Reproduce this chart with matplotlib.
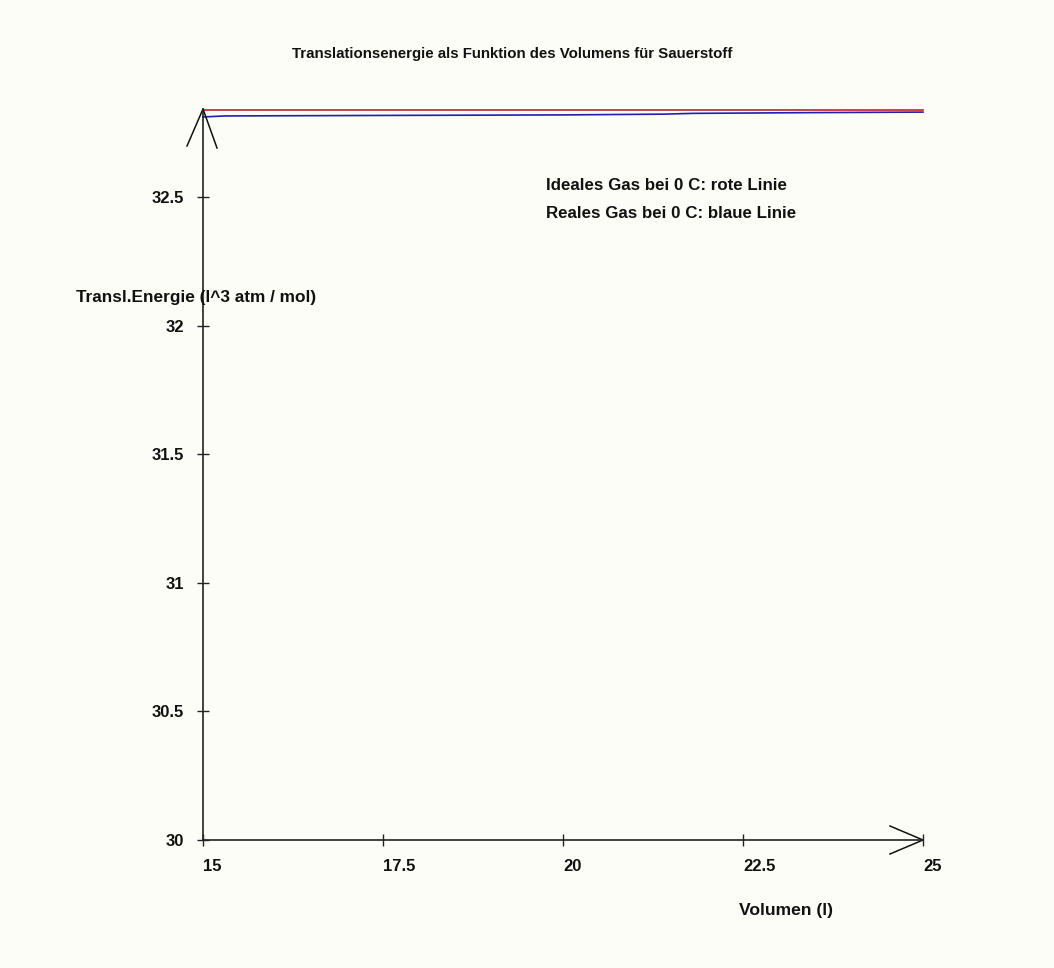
import matplotlib.pyplot as plt

# Werte
volumen = [15, 15.3, 17.5, 20, 21.4, 21.8, 23.5, 25]
ideal = [32.840, 32.840, 32.840, 32.840, 32.840, 32.840, 32.840, 32.840]
real = [32.811, 32.815, 32.817, 32.819, 32.822, 32.825, 32.828, 32.830]
xticks = [15, 17.5, 20, 22.5, 25]
yticks = [30, 30.5, 31, 31.5, 32, 32.5]

plt.rcParams['font.family'] = ['Liberation Sans', 'DejaVu Sans']
bg = '#fdfdf8'
fs = 12

fig = plt.figure(figsize=(10.54, 9.68), dpi=100, facecolor=bg)
W, H = 1054, 968
x0, x1, y0, y1 = 203, 923, 840, 109
ax = fig.add_axes([x0 / W, 1 - y0 / H, (x1 - x0) / W, (y0 - y1) / H], facecolor=bg)

ax.plot(volumen, ideal, color='#c0202a', lw=1.2, clip_on=False)
ax.plot(volumen, real, color='#2020b0', lw=1.2, clip_on=False)

ax.set_xlim(15, 25)
ax.set_ylim(30, 32.842)
for s in ['top', 'right']:
    ax.spines[s].set_visible(False)
for s in ['left', 'bottom']:
    ax.spines[s].set_color('#222222')
    ax.spines[s].set_linewidth(1.2)

ax.set_xticks(xticks)
ax.set_xticklabels(['15', '17.5', '20', '22.5', '25'], ha='left')
ax.set_yticks(yticks)
ax.set_yticklabels(['30', '30.5', '31', '31.5', '32', '32.5'])
ax.tick_params(direction='inout', length=9, width=1, color='#222222',
               labelsize=fs, labelcolor='#111111')
for lab in ax.get_xticklabels() + ax.get_yticklabels():
    lab.set_fontweight('bold')
ax.tick_params(axis='y', pad=9)
ax.tick_params(axis='x', pad=9)

# Pfeilspitzen an den Achsen
aw, ah = x1 - x0, y0 - y1
ax.plot([-16 / aw, 0, 14 / aw], [1 - 37 / ah, 1, 1 - 39 / ah], transform=ax.transAxes,
        color='#111111', lw=1.1, clip_on=False)
ax.plot([1 - 33 / aw, 1, 1 - 33 / aw], [14 / ah, 0, -14 / ah], transform=ax.transAxes,
        color='#111111', lw=1.1, clip_on=False)

fig.text(512 / W, 1 - 54 / H, 'Translationsenergie als Funktion des Volumens für Sauerstoff',
         ha='center', va='center', fontsize=10.8, weight='bold', color='#111111')
fig.text(76 / W, 1 - 297 / H, 'Transl.Energie (l^3 atm / mol)',
         ha='left', va='center', fontsize=12.4, weight='bold', color='#111111')
fig.text(739 / W, 1 - 910 / H, 'Volumen (l)',
         ha='left', va='center', fontsize=12.6, weight='bold', color='#111111')
fig.text(546 / W, 1 - 185 / H, 'Ideales Gas bei 0 C: rote Linie',
         ha='left', va='center', fontsize=12.2, weight='bold', color='#111111')
fig.text(546 / W, 1 - 213 / H, 'Reales Gas bei 0 C: blaue Linie',
         ha='left', va='center', fontsize=12.2, weight='bold', color='#111111')

fig.savefig('out.png', dpi=100, facecolor=bg)
